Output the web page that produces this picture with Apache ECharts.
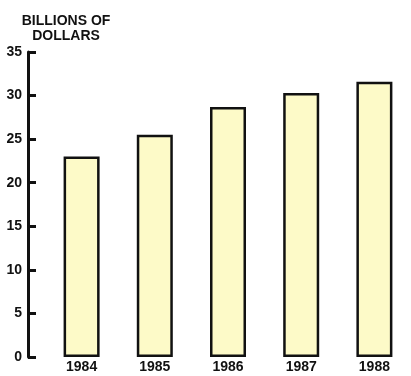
<!DOCTYPE html>
<html>
<head>
<meta charset="utf-8">
<script src="https://cdn.jsdelivr.net/npm/echarts@6/dist/echarts.min.js"></script>
<style>
  html, body { margin: 0; padding: 0; background: #fff; }
  #Chart { width: 411px; height: 376px; }
</style>
</head>
<body>
<div id="Chart"></div>
<script>
var years = ['1984', '1985', '1986', '1987', '1988'];
var billions = [23.0, 25.5, 28.7, 30.3, 31.6];
var yTicks = [0, 5, 10, 15, 20, 25, 30, 35];

var ink = '#111';
var font = 'Liberation Sans';

//柱状图
var Chart = function () {
    var myChart = echarts.init(document.getElementById('Chart'));
    var option = {
        animation: false,
        title: {
            text: 'BILLIONS OF\nDOLLARS',
            left: 61,
            top: 9,
            textAlign: 'center',
            textStyle: {
                fontFamily: font,
                fontWeight: 'bold',
                fontSize: 14,
                lineHeight: 15,
                color: ink
            }
        },
        grid: {
            left: 45,
            width: 370,
            top: 52,
            bottom: 19
        },
        xAxis: {
            type: 'category',
            data: years,
            axisLine: { show: false },
            axisTick: { show: false },
            axisLabel: {
                fontFamily: font,
                fontWeight: 'bold',
                fontSize: 14,
                color: ink,
                margin: 3
            }
        },
        yAxis: {
            type: 'value',
            min: yTicks[0],
            max: yTicks[yTicks.length - 1],
            interval: 5,
            offset: 17,
            splitLine: { show: false },
            axisLine: {
                show: true,
                lineStyle: { color: ink, width: 3 }
            },
            axisTick: {
                show: true,
                inside: false,
                length: -8,
                lineStyle: { color: ink, width: 3 }
            },
            axisLabel: {
                fontFamily: font,
                fontWeight: 'bold',
                fontSize: 14,
                color: ink,
                margin: 6
            }
        },
        series: [
            {
                type: 'bar',
                data: billions,
                barWidth: 36,
                itemStyle: {
                    color: '#fdfac8',
                    borderColor: ink,
                    borderWidth: 2.5
                }
            }
        ]
    };
    myChart.setOption(option);
};

Chart();
</script>
</body>
</html>
